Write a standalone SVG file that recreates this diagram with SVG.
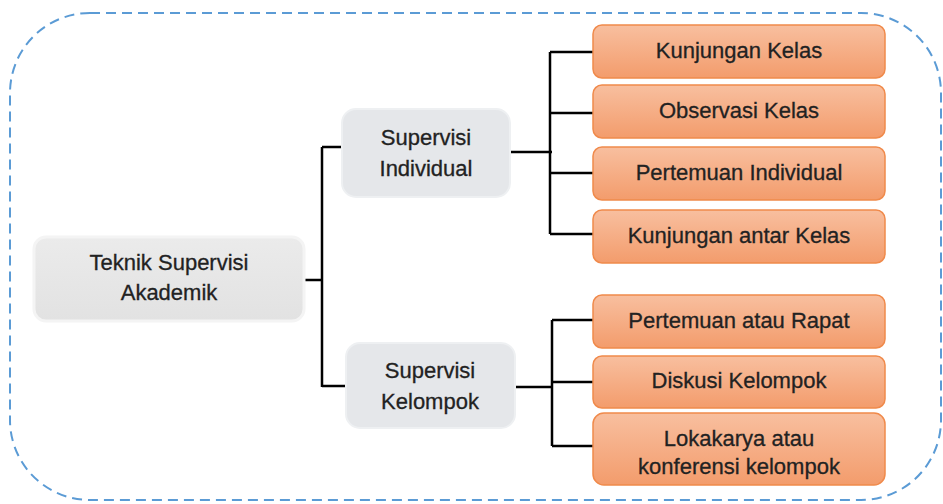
<svg xmlns="http://www.w3.org/2000/svg" width="943" height="504" viewBox="0 0 943 504">
<defs>
<linearGradient id="og" x1="0" y1="0" x2="0" y2="1">
<stop offset="0" stop-color="#f8bf9f"/>
<stop offset="1" stop-color="#f39c6c"/>
</linearGradient>
<linearGradient id="gg" x1="0" y1="0" x2="0" y2="1">
<stop offset="0" stop-color="#ebebeb"/>
<stop offset="1" stop-color="#e2e2e2"/>
</linearGradient>
<style>
text{font-family:"Liberation Sans",Arial,sans-serif;font-size:22px;fill:#222;stroke:#222;stroke-width:0.3;text-anchor:middle}
.o{fill:url(#og);stroke:#f08a4b;stroke-width:1.5}
.g{fill:url(#gg);stroke:#f4f4f4;stroke-width:3}
.c{fill:none;stroke:#000;stroke-width:2.5}
</style>
</defs>
<rect x="10" y="13" width="931" height="487" rx="80" ry="80" fill="none" stroke="#5b9bd5" stroke-width="2" stroke-dasharray="10 6"/>
<g id="connectors">
<path class="c" d="M304 280H322M322 147V387M322 147H342M322 386H346"/>
<path class="c" d="M510 152H552M550 52V234M550 52H593M550 113H593M550 173H593M550 234H593"/>
<path class="c" d="M515 387H552M552 320V446M552 320H593M552 382H593M552 446H593"/>
</g>
<g id="root"><rect class="g" x="34" y="237" width="270" height="84" rx="12"/><text x="169" y="270">Teknik Supervisi</text><text x="169" y="300">Akademik</text></g>
<g id="individual"><rect x="342" y="109" width="168" height="88" rx="14" fill="#e5e7ea" stroke="#eef0f2" stroke-width="2"/><text x="426" y="145">Supervisi</text><text x="426" y="176">Individual</text></g>
<g id="kelompok"><rect x="346" y="343" width="169" height="85" rx="14" fill="#e5e7ea" stroke="#eef0f2" stroke-width="2"/><text x="430" y="378">Supervisi</text><text x="430" y="409">Kelompok</text></g>
<g id="n1"><rect class="o" x="593" y="25" width="292" height="53" rx="9"/><text x="739" y="58">Kunjungan Kelas</text></g>
<g id="n2"><rect class="o" x="593" y="85" width="292" height="53" rx="9"/><text x="739" y="118">Observasi Kelas</text></g>
<g id="n3"><rect class="o" x="593" y="147" width="292" height="53" rx="9"/><text x="739" y="180">Pertemuan Individual</text></g>
<g id="n4"><rect class="o" x="593" y="210" width="292" height="53" rx="9"/><text x="739" y="243">Kunjungan antar Kelas</text></g>
<g id="n5"><rect class="o" x="593" y="295" width="292" height="53" rx="9"/><text x="739" y="328">Pertemuan atau Rapat</text></g>
<g id="n6"><rect class="o" x="593" y="356" width="292" height="52" rx="9"/><text x="739" y="388">Diskusi Kelompok</text></g>
<g id="n7"><rect class="o" x="593" y="413" width="292" height="72" rx="11"/><text x="739" y="446">Lokakarya atau</text><text x="739" y="474">konferensi kelompok</text></g>
</svg>
